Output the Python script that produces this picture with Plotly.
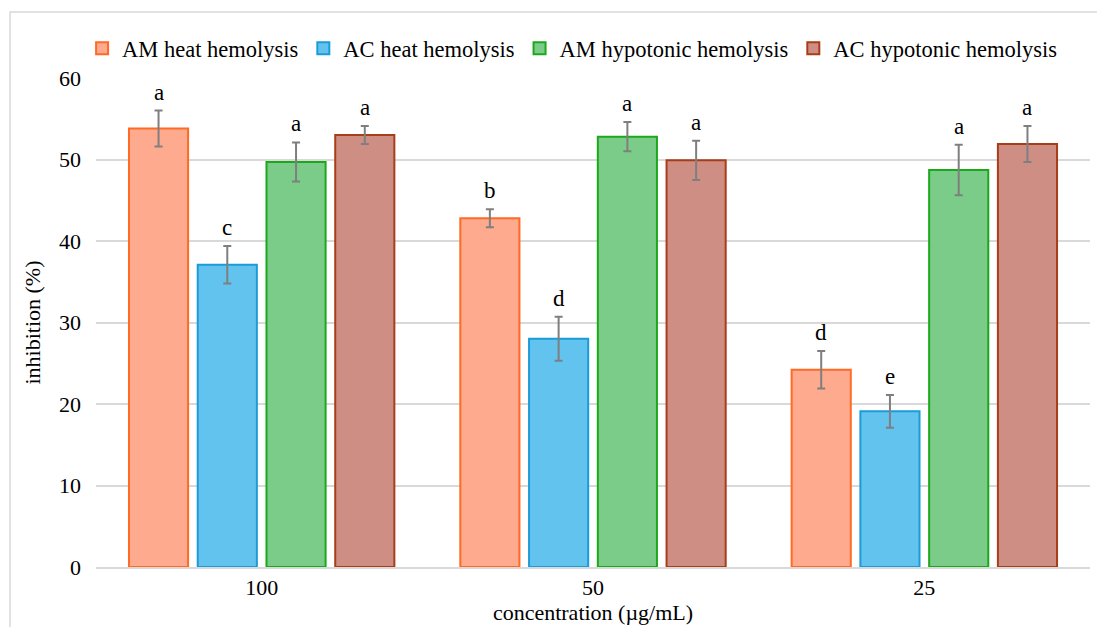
import plotly.graph_objects as go

categories = ["100", "50", "25"]
series_names = ["AM heat hemolysis", "AC heat hemolysis", "AM hypotonic hemolysis", "AC hypotonic hemolysis"]
am_heat = [53.8, 42.8, 24.2]
ac_heat = [37.1, 28.0, 19.1]
am_hypo = [49.7, 52.8, 48.7]
ac_hypo = [53.0, 49.9, 51.9]
am_heat_err = [2.2, 1.1, 2.3]
ac_heat_err = [2.3, 2.7, 2.0]
am_hypo_err = [2.4, 1.8, 3.1]
ac_hypo_err = [1.1, 2.4, 2.2]
am_heat_lbl = ["a", "b", "d"]
ac_heat_lbl = ["c", "d", "e"]
am_hypo_lbl = ["a", "a", "a"]
ac_hypo_lbl = ["a", "a", "a"]
y_ticks = [0, 10, 20, 30, 40, 50, 60]

values = [am_heat, ac_heat, am_hypo, ac_hypo]
errors = [am_heat_err, ac_heat_err, am_hypo_err, ac_hypo_err]
labels = [am_heat_lbl, ac_heat_lbl, am_hypo_lbl, ac_hypo_lbl]
fills = ["#FEAA8E", "#62C3EE", "#7ACC88", "#CF8E84"]
lines = ["#FF6A24", "#1B9BD8", "#1CA81C", "#A83E18"]

FONT = "Liberation Serif"
BARGAP = 0.17
GROUPGAP = 0.14

fig = go.Figure()
for name, v, e, fc, lc in zip(series_names, values, errors, fills, lines):
    fig.add_trace(go.Bar(
        name=name, x=categories, y=v,
        marker=dict(color=fc, line=dict(color=lc, width=2)),
        error_y=dict(type="data", array=e, color="#7F7F7F", thickness=2, width=4),
    ))

n = len(series_names)
slot = (1 - BARGAP) / n
for j, (v, e, lb) in enumerate(zip(values, errors, labels)):
    for i in range(len(categories)):
        fig.add_annotation(
            x=i + (j - (n - 1) / 2) * slot, y=v[i] + e[i], xref="x", yref="y",
            text=lb[i], showarrow=False, yanchor="bottom", yshift=4,
            font=dict(family=FONT, size=23, color="#000000"),
        )

# outer frame
fig.add_shape(type="rect", xref="paper", yref="paper",
              x0=-0.0865, x1=1.05, y0=-0.3, y1=1.135,
              line=dict(color="#D9D9D9", width=1.5), layer="below")

fig.update_layout(
    barmode="group", bargap=BARGAP, bargroupgap=GROUPGAP,
    width=1097, height=627,
    margin=dict(l=96, r=7, t=78, b=60),
    paper_bgcolor="white", plot_bgcolor="white",
    font=dict(family=FONT, size=22, color="#000000"),
    showlegend=True,
    legend=dict(orientation="h", x=-0.014, xanchor="left", y=1.06, yanchor="middle",
                font=dict(family=FONT, size=22.5), itemwidth=30, traceorder="normal"),
    xaxis=dict(type="category", showgrid=False, showline=True, linecolor="#D9D9D9", linewidth=1.5,
               ticks="", tickfont=dict(size=22),
               title=dict(text="concentration (µg/mL)", font=dict(size=22), standoff=2)),
    yaxis=dict(range=[0, 60], tickvals=y_ticks, showgrid=True, gridcolor="#D9D9D9", gridwidth=1.5,
               zeroline=False, showline=False, ticks="", ticklabelstandoff=14,
               tickfont=dict(size=22),
               title=dict(text="inhibition (%)", font=dict(size=22), standoff=12)),
)

fig.write_html("out.html")
